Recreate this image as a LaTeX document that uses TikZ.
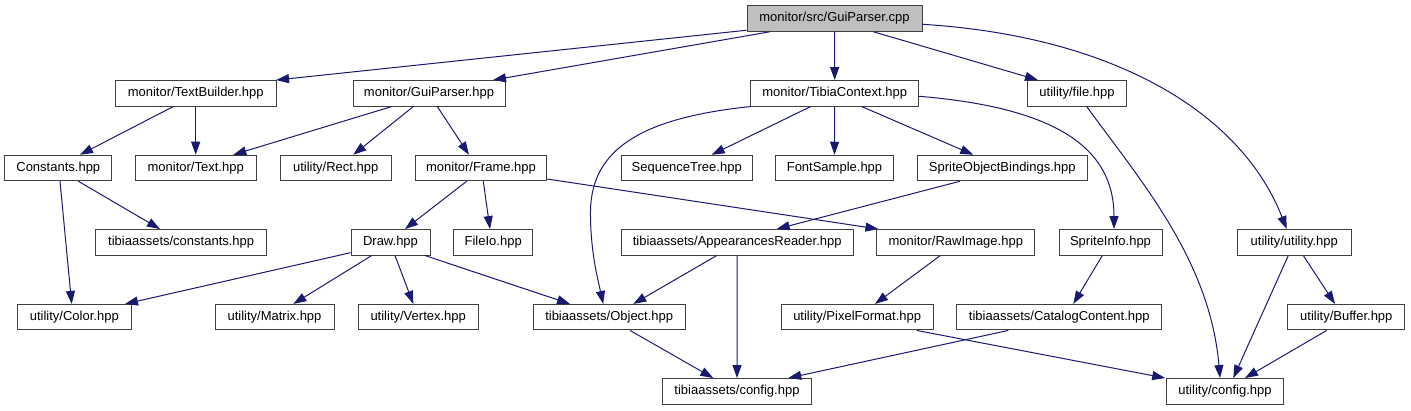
\documentclass[tikz,border=0pt]{standalone}
\usepackage{fontspec}
\setmainfont{Liberation Sans}
\usetikzlibrary{arrows.meta}
\definecolor{edgeblue}{HTML}{191970}
\definecolor{boxgray}{HTML}{404040}
\definecolor{cppfill}{HTML}{BFBFBF}
\tikzset{
  box/.style={draw=boxgray, line width=1pt, fill=white, inner sep=0pt,
    minimum height=25.5pt, font=\fontsize{13}{15}\selectfont},
  edge/.style={draw=edgeblue, line width=1pt,
    -{Triangle[length=13pt,width=9pt]}, fill=none},
}
\begin{document}
\begin{tikzpicture}[x=1pt,y=-1pt]
\useasboundingbox (0,0) rectangle (1411,411);
% row 0
\node[box, fill=cppfill, minimum width=175pt] (cpp) at (834.5,18.5) {monitor/src/GuiParser.cpp};
% row 1
\node[box, minimum width=160.7pt] (tb) at (195.7,93.3) {monitor/TextBuilder.hpp};
\node[box, minimum width=152pt] (gph) at (429,93.3) {monitor/GuiParser.hpp};
\node[box, minimum width=168pt] (tc) at (834.7,93.3) {monitor/TibiaContext.hpp};
\node[box, minimum width=99.4pt] (file) at (1077,93.3) {utility/file.hpp};
% row 2
\node[box, minimum width=107.3pt] (const) at (58.3,168) {Constants.hpp};
\node[box, minimum width=120.7pt] (text) at (195.7,168) {monitor/Text.hpp};
\node[box, minimum width=110.7pt] (rect) at (335.7,168) {utility/Rect.hpp};
\node[box, minimum width=131.4pt] (frame) at (481,168) {monitor/Frame.hpp};
\node[box, minimum width=131.3pt] (seq) at (686.7,168) {SequenceTree.hpp};
\node[box, minimum width=117.6pt] (font) at (834.5,168) {FontSample.hpp};
\node[box, minimum width=170pt] (sob) at (1002.3,168) {SpriteObjectBindings.hpp};
% row 3
\node[box, minimum width=171pt] (tconst) at (181.2,242.3) {tibiaassets/constants.hpp};
\node[box, minimum width=79pt] (draw) at (390.5,242.3) {Draw.hpp};
\node[box, minimum width=79pt] (fileio) at (493.2,242.3) {FileIo.hpp};
\node[box, minimum width=232.3pt] (app) at (737.2,242.3) {tibiaassets/AppearancesReader.hpp};
\node[box, minimum width=157.7pt] (raw) at (955.8,242.3) {monitor/RawImage.hpp};
\node[box, minimum width=103pt] (si) at (1110.5,242.3) {SpriteInfo.hpp};
\node[box, minimum width=114pt] (util) at (1294.3,242.3) {utility/utility.hpp};
% row 4
\node[box, minimum width=114pt] (color) at (74.3,317.2) {utility/Color.hpp};
\node[box, minimum width=119pt] (matrix) at (274.5,317.2) {utility/Matrix.hpp};
\node[box, minimum width=120.3pt] (vertex) at (418.2,317.2) {utility/Vertex.hpp};
\node[box, minimum width=151.7pt] (obj) at (609.2,317.2) {tibiaassets/Object.hpp};
\node[box, minimum width=152.3pt] (pix) at (857.2,317.2) {utility/PixelFormat.hpp};
\node[box, minimum width=205.3pt] (cat) at (1059.3,317.2) {tibiaassets/CatalogContent.hpp};
\node[box, minimum width=117.3pt] (buf) at (1346.3,317.2) {utility/Buffer.hpp};
% row 5
\node[box, minimum width=149.4pt] (tcfg) at (737,391.3) {tibiaassets/config.hpp};
\node[box, minimum width=116.6pt] (ucfg) at (1225,391.3) {utility/config.hpp};

% edges from cpp
\draw[edge] ([yshift=1.5pt]cpp.south west) -- ([xshift=-0.5pt]tb.north east);
\draw[edge] ([xshift=-64.5pt]cpp.south) -- ([xshift=64pt]gph.north);
\draw[edge] (cpp.south) -- (tc.north);
\draw[edge] ([xshift=38.8pt]cpp.south) -- ([xshift=-39pt]file.north);
\draw[edge] ([yshift=-5.8pt]cpp.east) .. controls (1110,36) and (1240,110) .. ([xshift=-7.6pt]util.north);
% TextBuilder
\draw[edge] ([xshift=-22.4pt]tb.south) -- ([xshift=21.7pt]const.north);
\draw[edge] (tb.south) -- (text.north);
% GuiParser.hpp
\draw[edge] ([xshift=-37.3pt]gph.south) -- ([xshift=37.6pt]text.north);
\draw[edge] ([xshift=-15.7pt]gph.south) -- ([xshift=17.6pt]rect.north);
\draw[edge] ([xshift=8.3pt]gph.south) -- ([xshift=-12pt]frame.north);
% TibiaContext
\draw[edge] ([xshift=0.5pt]tc.south west) .. controls (640,118) and (592,150) .. (590.5,210)
  .. controls (590,250) and (598,280) .. ([xshift=-6pt]obj.north);
\draw[edge] ([xshift=-24pt]tc.south) -- ([xshift=25pt]seq.north);
\draw[edge] (tc.south) -- (font.north);
\draw[edge] ([xshift=27pt]tc.south) -- ([xshift=-29pt]sob.north);
\draw[edge] ([yshift=-3pt]tc.east) .. controls (1060,108) and (1114,150) .. ([xshift=3.5pt]si.north);
% file.hpp
\draw[edge] ([xshift=9.7pt]file.south) .. controls (1140,180) and (1210,260) .. ([xshift=-5pt]ucfg.north);
% Frame
\draw[edge] ([xshift=-14.3pt]frame.south) -- ([xshift=14.5pt]draw.north);
\draw[edge] ([xshift=2.3pt]frame.south) -- ([xshift=-3.2pt]fileio.north);
\draw[edge] ([yshift=-11pt]frame.east) -- ([xshift=2pt]raw.north west);
% SOB
\draw[edge] ([xshift=-42.3pt]sob.south) -- ([xshift=39.5pt]app.north);
% Constants
\draw[edge] ([xshift=1.7pt]const.south) -- ([xshift=-2.6pt]color.north);
\draw[edge] ([xshift=20pt]const.south) -- ([xshift=-21.2pt]tconst.north);
% Draw
\draw[edge] ([yshift=-10.4pt]draw.west) -- ([xshift=50.7pt]color.north);
\draw[edge] ([xshift=-18.8pt]draw.south) -- ([xshift=18.8pt]matrix.north);
\draw[edge] ([xshift=4.5pt]draw.south) -- ([xshift=-4.9pt]vertex.north);
\draw[edge] ([xshift=34.5pt]draw.south) -- ([xshift=-39.2pt]obj.north);
% AppearancesReader
\draw[edge] ([xshift=-20.5pt]app.south) -- ([xshift=24.1pt]obj.north);
\draw[edge] (app.south) -- (tcfg.north);
% RawImage
\draw[edge] ([xshift=-15.5pt]raw.south) -- ([xshift=17.8pt]pix.north);
% SpriteInfo
\draw[edge] ([xshift=-8.2pt]si.south) -- ([xshift=14pt]cat.north);
% utility
\draw[edge] ([xshift=-6pt]util.south) -- ([xshift=8.3pt]ucfg.north);
\draw[edge] ([xshift=9pt]util.south) -- ([xshift=-11.3pt]buf.north);
% row 4
\draw[edge] ([xshift=20.8pt]obj.south) -- ([xshift=-23.7pt]tcfg.north);
\draw[edge] ([xshift=59.5pt]pix.south) -- ([xshift=-1pt]ucfg.north west);
\draw[edge] ([xshift=-51pt]cat.south) -- ([xshift=51.3pt]tcfg.north);
\draw[edge] ([xshift=-19.6pt]buf.south) -- ([xshift=20pt]ucfg.north);
\end{tikzpicture}
\end{document}
